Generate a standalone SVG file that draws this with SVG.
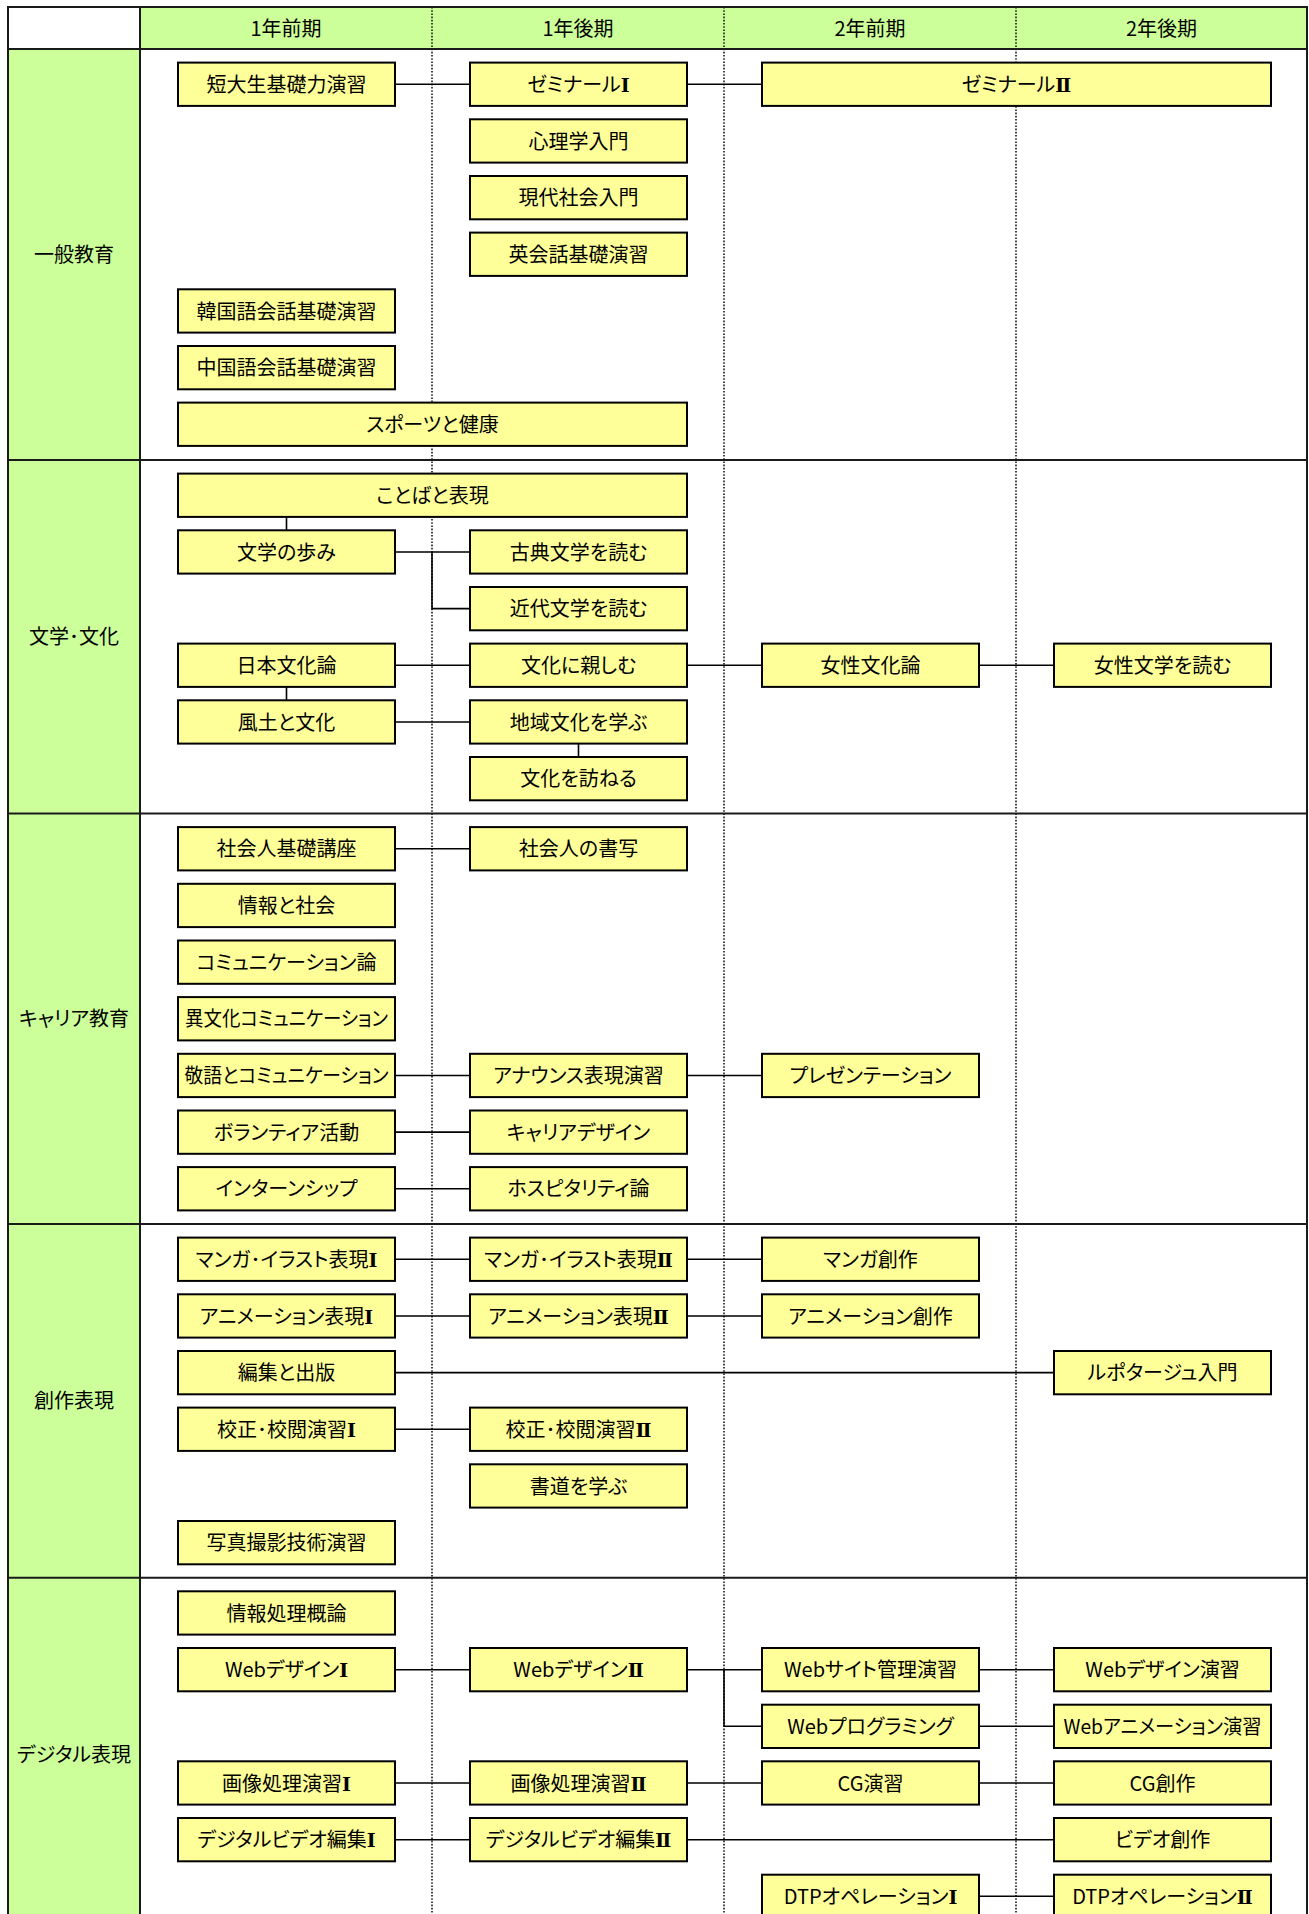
<svg xmlns="http://www.w3.org/2000/svg" width="1309" height="1914" viewBox="0 0 1309 1914">
<style>
.bg{fill:#CCFF99;}
.grid{stroke:#1a1a1a;stroke-width:2;fill:none;}
.dot{stroke:#1a1a1a;stroke-width:1.6;stroke-dasharray:1.6 1.6;fill:none;}
.c{stroke:#000;stroke-width:1.6;fill:none;}
.box rect{fill:#FFFF99;stroke:#000;stroke-width:2;}
text{font-family:"Noto Sans CJK JP","Noto Sans CJK SC",sans-serif;font-size:20px;text-anchor:middle;fill:#000;font-feature-settings:"palt";}
.rn{font-family:"DejaVu Serif","DejaVu Sans","Noto Sans CJK JP",serif;font-weight:bold;font-size:19px;}
</style>
<rect x="0" y="0" width="1309" height="1914" fill="#fff"/>
<g id="table">
<rect class="bg" x="140" y="7" width="1167" height="42"/>
<rect class="bg" x="8" y="49" width="132" height="1900"/>
<line class="dot" x1="432" y1="7" x2="432" y2="1914"/>
<line class="dot" x1="724" y1="7" x2="724" y2="1914"/>
<line class="dot" x1="1016" y1="7" x2="1016" y2="1914"/>
<rect class="grid" x="8" y="7" width="1299" height="1950" stroke-width="2.5"/>
<line class="grid" x1="8" y1="49" x2="1307" y2="49"/>
<line class="grid" x1="140" y1="7" x2="140" y2="1914"/>
<line class="grid" x1="8" y1="460" x2="1307" y2="460"/>
<line class="grid" x1="8" y1="813.5" x2="1307" y2="813.5"/>
<line class="grid" x1="8" y1="1224" x2="1307" y2="1224"/>
<line class="grid" x1="8" y1="1577.7" x2="1307" y2="1577.7"/>
<text x="286" y="35.5">1年前期</text>
<text x="578" y="35.5">1年後期</text>
<text x="870" y="35.5">2年前期</text>
<text x="1161.5" y="35.5">2年後期</text>
<text x="74" y="262">一般教育</text>
<text x="74" y="644.2">文学･文化</text>
<text x="74" y="1026.2">キャリア教育</text>
<text x="74" y="1408.3">創作表現</text>
<text x="74" y="1762">デジタル表現</text>
</g>
<g id="connectors">
<path class="c" d="M395 84.3H470M687 84.3H762"/>
<path class="c" d="M286.5 517V530.3M395 552H470M432 552V608.6H470M395 665.3H470M687 665.3H762M979 665.3H1054M286.5 687V700.3M395 722H470M578.5 743.6V757"/>
<path class="c" d="M395 848.8H470M395 1075.5H470M687 1075.5H762M395 1132.1H470M395 1188.8H470"/>
<path class="c" d="M395 1259.3H470M687 1259.3H762M395 1316H470M687 1316H762M395 1372.6H1054M395 1429.3H470"/>
<path class="c" d="M395 1669.7H470M687 1669.7H762M979 1669.7H1054M724 1669.7V1726.3H762M979 1726.3H1054M395 1783H470M687 1783H762M979 1783H1054M395 1839.7H470M687 1839.7H1054M979 1896.3H1054"/>
</g>
<g id="n-s1-1" class="box"><rect x="178" y="62.6" width="217" height="43.3"/><text x="286.5" y="91.8">短大生基礎力演習</text></g>
<g id="n-s1-2" class="box"><rect x="470" y="62.6" width="217" height="43.3"/><text x="578.5" y="91.8">ゼミナール<tspan class="rn">Ⅰ</tspan></text></g>
<g id="n-s1-3" class="box"><rect x="762" y="62.6" width="509" height="43.3"/><text x="1016.5" y="91.8">ゼミナール<tspan class="rn">Ⅱ</tspan></text></g>
<g id="n-s1-4" class="box"><rect x="470" y="119.3" width="217" height="43.3"/><text x="578.5" y="148.5">心理学入門</text></g>
<g id="n-s1-5" class="box"><rect x="470" y="176" width="217" height="43.3"/><text x="578.5" y="205.1">現代社会入門</text></g>
<g id="n-s1-6" class="box"><rect x="470" y="232.6" width="217" height="43.3"/><text x="578.5" y="261.8">英会話基礎演習</text></g>
<g id="n-s1-7" class="box"><rect x="178" y="289.3" width="217" height="43.3"/><text x="286.5" y="318.5">韓国語会話基礎演習</text></g>
<g id="n-s1-8" class="box"><rect x="178" y="346" width="217" height="43.3"/><text x="286.5" y="375.1">中国語会話基礎演習</text></g>
<g id="n-s1-9" class="box"><rect x="178" y="402.6" width="509" height="43.3"/><text x="432.5" y="431.8">スポーツと健康</text></g>

<g id="n-s2-1" class="box"><rect x="178" y="473.6" width="509" height="43.3"/><text x="432.5" y="502.8">ことばと表現</text></g>
<g id="n-s2-2" class="box"><rect x="178" y="530.3" width="217" height="43.3"/><text x="286.5" y="559.5">文学の歩み</text></g>
<g id="n-s2-3" class="box"><rect x="470" y="530.3" width="217" height="43.3"/><text x="578.5" y="559.5">古典文学を読む</text></g>
<g id="n-s2-4" class="box"><rect x="470" y="587" width="217" height="43.3"/><text x="578.5" y="616.1">近代文学を読む</text></g>
<g id="n-s2-5" class="box"><rect x="178" y="643.6" width="217" height="43.3"/><text x="286.5" y="672.8">日本文化論</text></g>
<g id="n-s2-6" class="box"><rect x="470" y="643.6" width="217" height="43.3"/><text x="578.5" y="672.8">文化に親しむ</text></g>
<g id="n-s2-7" class="box"><rect x="762" y="643.6" width="217" height="43.3"/><text x="870.5" y="672.8">女性文化論</text></g>
<g id="n-s2-8" class="box"><rect x="1054" y="643.6" width="217" height="43.3"/><text x="1162.5" y="672.8">女性文学を読む</text></g>
<g id="n-s2-9" class="box"><rect x="178" y="700.3" width="217" height="43.3"/><text x="286.5" y="729.5">風土と文化</text></g>
<g id="n-s2-10" class="box"><rect x="470" y="700.3" width="217" height="43.3"/><text x="578.5" y="729.5">地域文化を学ぶ</text></g>
<g id="n-s2-11" class="box"><rect x="470" y="757" width="217" height="43.3"/><text x="578.5" y="786.1">文化を訪ねる</text></g>

<g id="n-s3-1" class="box"><rect x="178" y="827.1" width="217" height="43.3"/><text x="286.5" y="856.3">社会人基礎講座</text></g>
<g id="n-s3-2" class="box"><rect x="470" y="827.1" width="217" height="43.3"/><text x="578.5" y="856.3">社会人の書写</text></g>
<g id="n-s3-3" class="box"><rect x="178" y="883.8" width="217" height="43.3"/><text x="286.5" y="913">情報と社会</text></g>
<g id="n-s3-4" class="box"><rect x="178" y="940.5" width="217" height="43.3"/><text x="286.5" y="969.6">コミュニケーション論</text></g>
<g id="n-s3-5" class="box"><rect x="178" y="997.1" width="217" height="43.3"/><text x="286.5" y="1026.3" textLength="203" lengthAdjust="spacingAndGlyphs">異文化コミュニケーション</text></g>
<g id="n-s3-6" class="box"><rect x="178" y="1053.8" width="217" height="43.3"/><text x="286.5" y="1083" textLength="204" lengthAdjust="spacingAndGlyphs">敬語とコミュニケーション</text></g>
<g id="n-s3-7" class="box"><rect x="470" y="1053.8" width="217" height="43.3"/><text x="578.5" y="1083">アナウンス表現演習</text></g>
<g id="n-s3-8" class="box"><rect x="762" y="1053.8" width="217" height="43.3"/><text x="870.5" y="1083">プレゼンテーション</text></g>
<g id="n-s3-9" class="box"><rect x="178" y="1110.5" width="217" height="43.3"/><text x="286.5" y="1139.6">ボランティア活動</text></g>
<g id="n-s3-10" class="box"><rect x="470" y="1110.5" width="217" height="43.3"/><text x="578.5" y="1139.6">キャリアデザイン</text></g>
<g id="n-s3-11" class="box"><rect x="178" y="1167.1" width="217" height="43.3"/><text x="286.5" y="1196.3">インターンシップ</text></g>
<g id="n-s3-12" class="box"><rect x="470" y="1167.1" width="217" height="43.3"/><text x="578.5" y="1196.3">ホスピタリティ論</text></g>

<g id="n-s4-1" class="box"><rect x="178" y="1237.6" width="217" height="43.3"/><text x="286.5" y="1266.8">マンガ･イラスト表現<tspan class="rn">Ⅰ</tspan></text></g>
<g id="n-s4-2" class="box"><rect x="470" y="1237.6" width="217" height="43.3"/><text x="578.5" y="1266.8">マンガ･イラスト表現<tspan class="rn">Ⅱ</tspan></text></g>
<g id="n-s4-3" class="box"><rect x="762" y="1237.6" width="217" height="43.3"/><text x="870.5" y="1266.8">マンガ創作</text></g>
<g id="n-s4-4" class="box"><rect x="178" y="1294.3" width="217" height="43.3"/><text x="286.5" y="1323.5">アニメーション表現<tspan class="rn">Ⅰ</tspan></text></g>
<g id="n-s4-5" class="box"><rect x="470" y="1294.3" width="217" height="43.3"/><text x="578.5" y="1323.5">アニメーション表現<tspan class="rn">Ⅱ</tspan></text></g>
<g id="n-s4-6" class="box"><rect x="762" y="1294.3" width="217" height="43.3"/><text x="870.5" y="1323.5">アニメーション創作</text></g>
<g id="n-s4-7" class="box"><rect x="178" y="1351" width="217" height="43.3"/><text x="286.5" y="1380.1">編集と出版</text></g>
<g id="n-s4-8" class="box"><rect x="1054" y="1351" width="217" height="43.3"/><text x="1162.5" y="1380.1">ルポタージュ入門</text></g>
<g id="n-s4-9" class="box"><rect x="178" y="1407.6" width="217" height="43.3"/><text x="286.5" y="1436.8">校正･校閲演習<tspan class="rn">Ⅰ</tspan></text></g>
<g id="n-s4-10" class="box"><rect x="470" y="1407.6" width="217" height="43.3"/><text x="578.5" y="1436.8">校正･校閲演習<tspan class="rn">Ⅱ</tspan></text></g>
<g id="n-s4-11" class="box"><rect x="470" y="1464.3" width="217" height="43.3"/><text x="578.5" y="1493.5">書道を学ぶ</text></g>
<g id="n-s4-12" class="box"><rect x="178" y="1521" width="217" height="43.3"/><text x="286.5" y="1550.1">写真撮影技術演習</text></g>

<g id="n-s5-1" class="box"><rect x="178" y="1591.3" width="217" height="43.3"/><text x="286.5" y="1620.5">情報処理概論</text></g>
<g id="n-s5-2" class="box"><rect x="178" y="1648" width="217" height="43.3"/><text x="286.5" y="1677.2">Webデザイン<tspan class="rn">Ⅰ</tspan></text></g>
<g id="n-s5-3" class="box"><rect x="470" y="1648" width="217" height="43.3"/><text x="578.5" y="1677.2">Webデザイン<tspan class="rn">Ⅱ</tspan></text></g>
<g id="n-s5-4" class="box"><rect x="762" y="1648" width="217" height="43.3"/><text x="870.5" y="1677.2">Webサイト管理演習</text></g>
<g id="n-s5-5" class="box"><rect x="1054" y="1648" width="217" height="43.3"/><text x="1162.5" y="1677.2">Webデザイン演習</text></g>
<g id="n-s5-6" class="box"><rect x="762" y="1704.7" width="217" height="43.3"/><text x="870.5" y="1733.8">Webプログラミング</text></g>
<g id="n-s5-7" class="box"><rect x="1054" y="1704.7" width="217" height="43.3"/><text x="1162.5" y="1733.8" textLength="198" lengthAdjust="spacingAndGlyphs">Webアニメーション演習</text></g>
<g id="n-s5-8" class="box"><rect x="178" y="1761.3" width="217" height="43.3"/><text x="286.5" y="1790.5">画像処理演習<tspan class="rn">Ⅰ</tspan></text></g>
<g id="n-s5-9" class="box"><rect x="470" y="1761.3" width="217" height="43.3"/><text x="578.5" y="1790.5">画像処理演習<tspan class="rn">Ⅱ</tspan></text></g>
<g id="n-s5-10" class="box"><rect x="762" y="1761.3" width="217" height="43.3"/><text x="870.5" y="1790.5">CG演習</text></g>
<g id="n-s5-11" class="box"><rect x="1054" y="1761.3" width="217" height="43.3"/><text x="1162.5" y="1790.5">CG創作</text></g>
<g id="n-s5-12" class="box"><rect x="178" y="1818" width="217" height="43.3"/><text x="286.5" y="1847.2">デジタルビデオ編集<tspan class="rn">Ⅰ</tspan></text></g>
<g id="n-s5-13" class="box"><rect x="470" y="1818" width="217" height="43.3"/><text x="578.5" y="1847.2">デジタルビデオ編集<tspan class="rn">Ⅱ</tspan></text></g>
<g id="n-s5-14" class="box"><rect x="1054" y="1818" width="217" height="43.3"/><text x="1162.5" y="1847.2">ビデオ創作</text></g>
<g id="n-s5-15" class="box"><rect x="762" y="1874.7" width="217" height="43.3"/><text x="870.5" y="1903.8">DTPオペレーション<tspan class="rn">Ⅰ</tspan></text></g>
<g id="n-s5-16" class="box"><rect x="1054" y="1874.7" width="217" height="43.3"/><text x="1162.5" y="1903.8">DTPオペレーション<tspan class="rn">Ⅱ</tspan></text></g>
</svg>
